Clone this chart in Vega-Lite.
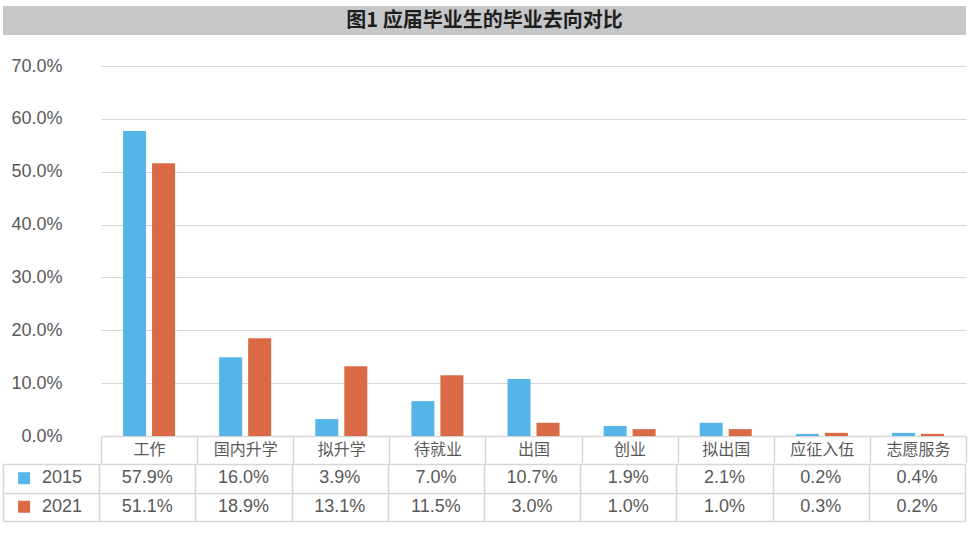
{
  "$schema": "https://vega.github.io/schema/vega-lite/v6.json",
  "padding": {"left": 3, "top": 6, "right": 5, "bottom": 5},
  "config": {"view": {"stroke": null}},
  "datasets": {
    "main": [
      {"cat": "工作", "year": "2015", "value": 57.7, "label": "57.9%"},
      {"cat": "工作", "year": "2021", "value": 51.6, "label": "51.1%"},
      {"cat": "国内升学", "year": "2015", "value": 14.9, "label": "16.0%"},
      {"cat": "国内升学", "year": "2021", "value": 18.5, "label": "18.9%"},
      {"cat": "拟升学", "year": "2015", "value": 3.2, "label": "3.9%"},
      {"cat": "拟升学", "year": "2021", "value": 13.2, "label": "13.1%"},
      {"cat": "待就业", "year": "2015", "value": 6.6, "label": "7.0%"},
      {"cat": "待就业", "year": "2021", "value": 11.5, "label": "11.5%"},
      {"cat": "出国", "year": "2015", "value": 10.8, "label": "10.7%"},
      {"cat": "出国", "year": "2021", "value": 2.5, "label": "3.0%"},
      {"cat": "创业", "year": "2015", "value": 1.9, "label": "1.9%"},
      {"cat": "创业", "year": "2021", "value": 1.3, "label": "1.0%"},
      {"cat": "拟出国", "year": "2015", "value": 2.5, "label": "2.1%"},
      {"cat": "拟出国", "year": "2021", "value": 1.3, "label": "1.0%"},
      {"cat": "应征入伍", "year": "2015", "value": 0.4, "label": "0.2%"},
      {"cat": "应征入伍", "year": "2021", "value": 0.6, "label": "0.3%"},
      {"cat": "志愿服务", "year": "2015", "value": 0.6, "label": "0.4%"},
      {"cat": "志愿服务", "year": "2021", "value": 0.4, "label": "0.2%"}
    ],
    "legend": [{"year": "2015"}, {"year": "2021"}],
    "title": [{"t": "图1 应届毕业生的毕业去向对比"}]
  },
  "concat": [
    {
      "width": 963,
      "height": 29,
      "data": {"name": "title"},
      "layer": [
        {"mark": {"type": "rect", "color": "#c6c7c9"}, "encoding": {}},
        {
          "mark": {"type": "text", "font": "Noto Sans CJK SC", "fontSize": 20, "fontWeight": "bold", "color": "#1e1e1e", "align": "center", "baseline": "middle"},
          "encoding": {"text": {"field": "t"}}
        }
      ]
    },
    {
      "concat": [
        {
          "hconcat": [
            {
              "width": 97,
              "height": 370,
              "data": {"name": "main"},
              "mark": {"type": "tick", "opacity": 0},
              "encoding": {
                "y": {
                  "field": "value", "type": "quantitative",
                  "scale": {"domain": [0, 70], "nice": false},
                  "axis": {"title": null, "values": [0, 10, 20, 30, 40, 50, 60, 70], "labelExpr": "format(datum.value, '.1f') + '%'", "grid": false, "ticks": false, "domain": false, "labelPadding": -59, "labelAlign": "right", "labelFont": "Liberation Sans", "labelFontSize": 18, "labelColor": "#595959"}
                }
              }
            },
            {
              "width": 865,
              "height": 370,
              "data": {"name": "main"},
              "mark": {"type": "bar"},
              "encoding": {
                "x": {
                  "field": "cat", "type": "nominal",
                  "scale": {"domain": ["工作", "国内升学", "拟升学", "待就业", "出国", "创业", "拟出国", "应征入伍", "志愿服务"], "paddingInner": 0, "paddingOuter": 0},
                  "axis": {"orient": "bottom", "title": null, "tickBand": "extent", "tickSize": 27, "tickColor": "#d6d6d6", "tickWidth": 1.5, "domainColor": "#d6d6d6", "domainWidth": 1.5, "labelPadding": -14, "labelBaseline": "middle", "labelAngle": 0, "labelFont": "Noto Sans CJK SC", "labelFontSize": 16, "labelColor": "#595959"}
                },
                "xOffset": {"field": "year", "type": "nominal", "scale": {"paddingInner": 0.207, "paddingOuter": 0.76}},
                "y": {
                  "field": "value", "type": "quantitative",
                  "scale": {"domain": [0, 70], "nice": false},
                  "axis": {"title": null, "values": [0, 10, 20, 30, 40, 50, 60, 70], "labels": false, "ticks": false, "domain": false, "grid": true, "gridColor": "#d6d6d6", "gridWidth": 1}
                },
                "color": {"field": "year", "type": "nominal", "scale": {"domain": ["2015", "2021"], "range": ["#55b5e9", "#da6a45"]}, "legend": null}
              }
            }
          ],
          "spacing": 0
        },
        {
          "width": 962,
          "height": 57,
          "layer": [
            {
              "data": {"name": "main"},
              "mark": {"type": "text", "font": "Liberation Sans", "fontSize": 18, "color": "#595959", "align": "center", "baseline": "middle"},
              "encoding": {
                "x": {"field": "cat", "type": "nominal", "scale": {"domain": ["年份", "工作", "国内升学", "拟升学", "待就业", "出国", "创业", "拟出国", "应征入伍", "志愿服务"], "paddingInner": 0, "paddingOuter": 0}, "axis": {"title": null, "grid": true, "tickBand": "extent", "labels": false, "ticks": false, "domain": false, "gridColor": "#d6d6d6", "gridWidth": 1.5}},
                "y": {"field": "year", "type": "nominal", "scale": {"domain": ["2015", "2021"], "paddingInner": 0, "paddingOuter": 0}, "axis": {"title": null, "grid": true, "tickBand": "extent", "labels": false, "ticks": false, "domain": false, "gridColor": "#d6d6d6", "gridWidth": 1.5}},
                "text": {"field": "label"}
              }
            },
            {
              "data": {"name": "legend"},
              "mark": {"type": "text", "font": "Liberation Sans", "fontSize": 18, "color": "#595959", "align": "center", "baseline": "middle", "dx": 11},
              "encoding": {
                "x": {"datum": "年份", "type": "nominal"},
                "y": {"field": "year", "type": "nominal"},
                "text": {"field": "year"}
              }
            },
            {
              "data": {"name": "legend"},
              "mark": {"type": "point", "shape": "square", "filled": true, "opacity": 1, "size": 144, "xOffset": -27},
              "encoding": {
                "x": {"datum": "年份", "type": "nominal"},
                "y": {"field": "year", "type": "nominal"},
                "color": {"field": "year", "type": "nominal", "scale": {"domain": ["2015", "2021"], "range": ["#55b5e9", "#da6a45"]}, "legend": null}
              }
            }
          ]
        }
      ],
      "columns": 1,
      "spacing": 0
    }
  ],
  "columns": 1,
  "spacing": 22
}
